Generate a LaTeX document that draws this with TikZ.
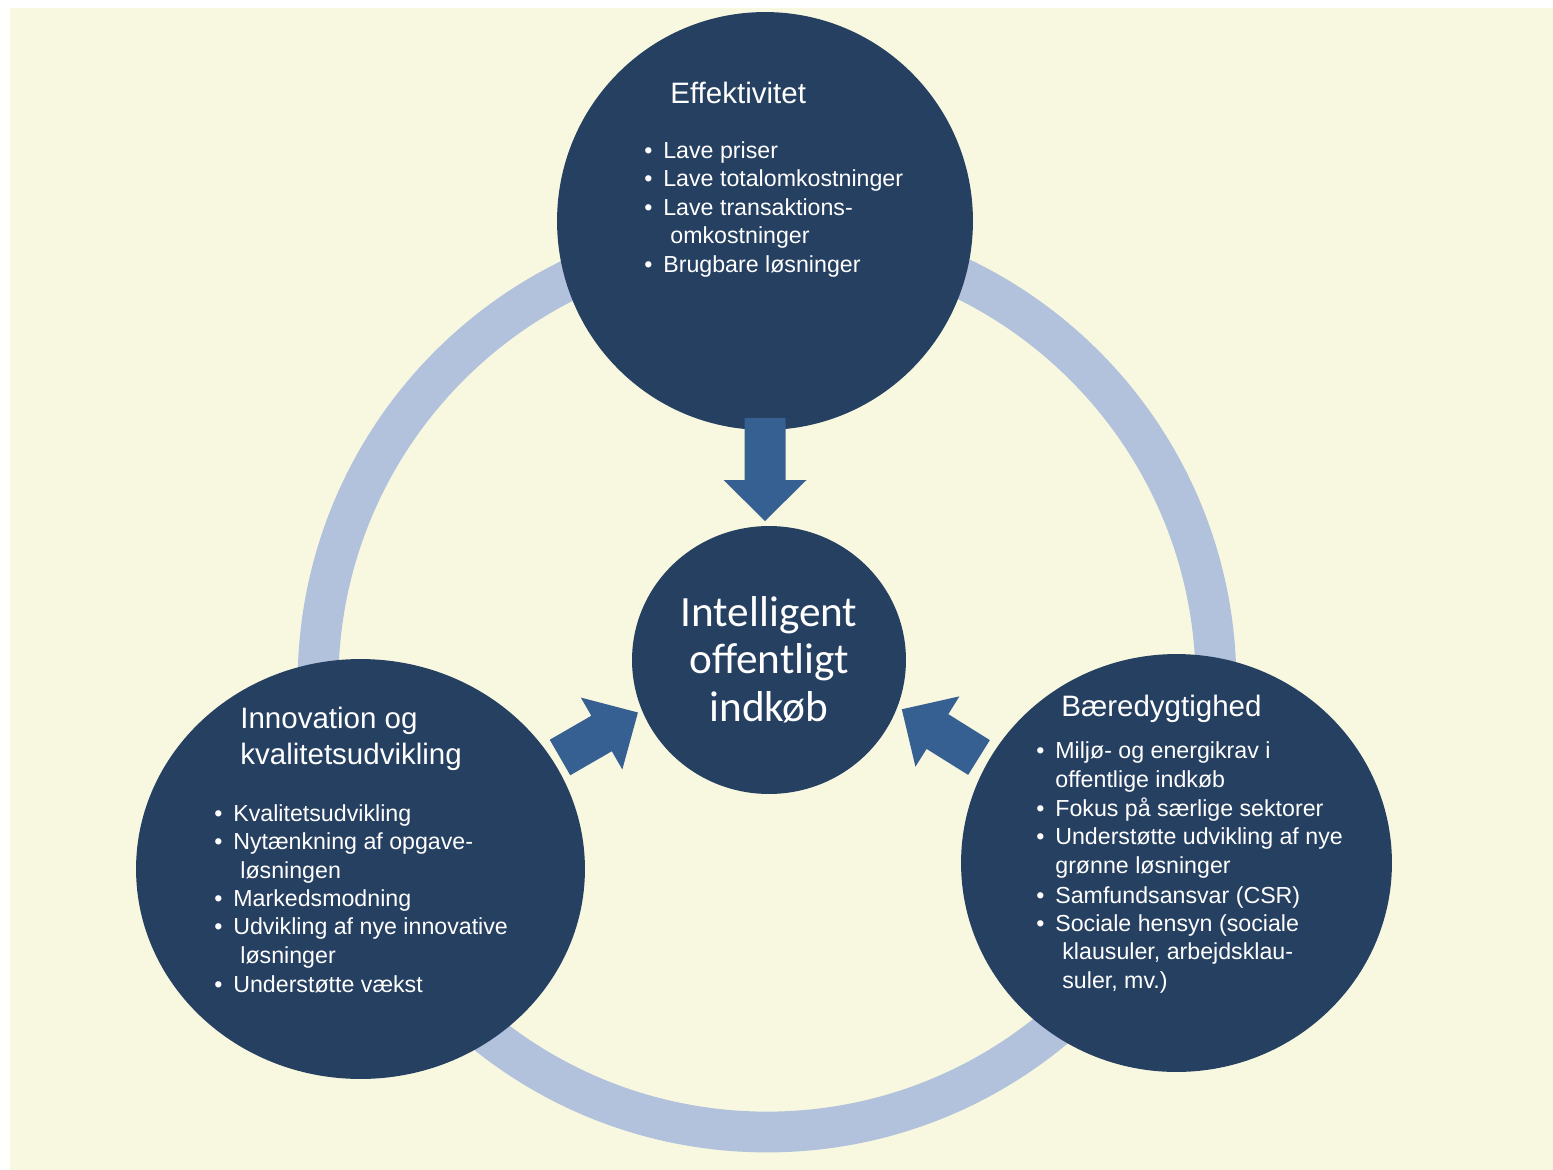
\documentclass[tikz,border=0pt]{standalone}
\usepackage{fontspec}
\setmainfont{Liberation Sans}
\newfontfamily\calibri{Carlito}
\usetikzlibrary{shapes.geometric}
\definecolor{cream}{HTML}{F8F8E1}
\definecolor{navy}{HTML}{264061}
\definecolor{ringblue}{HTML}{B2C1DC}
\definecolor{arrowblue}{HTML}{376092}
\newcommand{\bul}{\llap{\textbullet\hspace{6.2pt}}}
\newcommand{\fatarr}[2]{\fill[fatarrow] (0,-20.5) -- (#2,-20.5) -- (#2,-41.5) -- (#1,0) -- (#2,41.5) -- (#2,20.5) -- (0,20.5) -- cycle;}
\tikzset{
  bigcirc/.style={ellipse, fill=navy, inner sep=0pt},
  headtext/.style={anchor=base west, inner sep=0pt, text=white, font=\fontsize{16.8}{20}\selectfont},
  bodytext/.style={anchor=base west, inner sep=0pt, text=white, font=\fontsize{13.2}{16.1}\selectfont},
  midtext/.style={anchor=base, inner sep=0pt, text=white, font=\calibri\fontsize{24.6}{26.9}\selectfont},
  fatarrow/.style={fill=arrowblue}
}

\begin{document}
\begin{tikzpicture}[x=0.02cm, y=-0.02cm]
\useasboundingbox (0,0) rectangle (1553,1170);
\fill[white] (0,0) rectangle (1553,1170);
\fill[cream] (10,8) rectangle (1553,1170);
% ring behind the circles
\draw[ringblue, line width=23.2pt] (767,683) circle (449);

% the four circles
\node[bigcirc, minimum width=8.32cm, minimum height=8.36cm] (eff) at (765,221) {};
\node[bigcirc, minimum width=8.98cm, minimum height=8.4cm] (inno) at (360.5,869) {};
\node[bigcirc, minimum width=8.62cm, minimum height=8.36cm] (baer) at (1176.5,863) {};
\node[bigcirc, minimum width=5.48cm, minimum height=5.36cm] (ioi) at (769,660) {};

% block arrows towards the middle
\begin{scope}[shift={(765,418)}, rotate=-90]
  \fatarr{103}{62}
\end{scope}
\begin{scope}[shift={(560,757.5)}, rotate=30]
  \fatarr{90}{48}
\end{scope}
\begin{scope}[shift={(979,757.5)}, rotate=148]
  \fatarr{91}{49}
\end{scope}

% middle
\foreach \txt/\yy [count=\i] in {Intelligent/626, offentligt/673, indkøb/721}
  \node[midtext] (ioi-\i) at (769,\yy) {\txt};

% Effektivitet
\node[headtext] (eff-head) at (670,103) {Effektivitet};
\foreach \txt/\yy [count=\i] in {{\bul Lave priser}/158, {\bul Lave totalomkostninger}/186.5,
    {\bul Lave transaktions-}/215, {\hspace*{4pt}omkostninger}/243.5, {\bul Brugbare løsninger}/272}
  \node[bodytext] (eff-\i) at (663,\yy) {\txt};

% Innovation og kvalitetsudvikling
\node[headtext] (inno-head1) at (240,728) {Innovation og};
\node[headtext] (inno-head2) at (240,764) {kvalitetsudvikling};
\foreach \txt/\yy [count=\i] in {{\bul Kvalitetsudvikling}/821, {\bul Nytænkning af opgave-}/849,
    {\hspace*{4pt}løsningen}/878, {\bul Markedsmodning}/906, {\bul Udvikling af nye innovative}/934,
    {\hspace*{4pt}løsninger}/963, {\bul Understøtte vækst}/992}
  \node[bodytext] (inno-\i) at (233,\yy) {\txt};

% Bæredygtighed
\node[headtext] (baer-head) at (1061,716) {Bæredygtighed};
\foreach \txt/\yy [count=\i] in {{\bul Miljø- og energikrav i}/758, {offentlige indkøb}/787,
    {\bul Fokus på særlige sektorer}/816, {\bul Understøtte udvikling af nye}/844,
    {grønne løsninger}/873, {\bul Samfundsansvar (CSR)}/903, {\bul Sociale hensyn (sociale}/931,
    {\hspace*{4pt}klausuler, arbejdsklau-}/959, {\hspace*{4pt}suler, mv.)}/988}
  \node[bodytext] (baer-\i) at (1055,\yy) {\txt};
\end{tikzpicture}
\end{document}
